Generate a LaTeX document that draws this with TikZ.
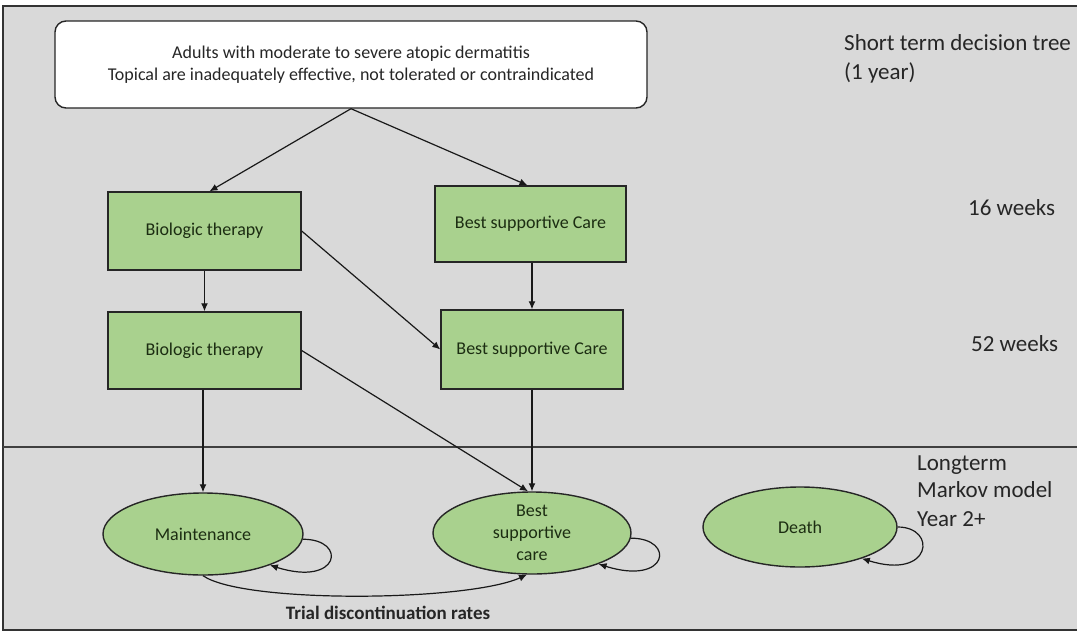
\documentclass[tikz,border=0pt]{standalone}
\usepackage{fontspec}
\setmainfont{Carlito}
\usetikzlibrary{arrows.meta,shapes.geometric,calc}
\definecolor{bggray}{RGB}{217,217,217}
\definecolor{boxgreen}{RGB}{169,209,142}
\definecolor{txtgreen}{RGB}{28,45,18}
\definecolor{lbltext}{RGB}{38,38,38}
\begin{document}
\begin{tikzpicture}[x=1pt,y=-1pt,
  topbox/.style={draw=black!85, line width=1.4pt, fill=white, rounded corners=11pt,
    minimum width=592pt, minimum height=87pt, inner sep=0pt, align=center,
    font=\fontsize{18}{22}\selectfont, text=lbltext},
  box/.style={draw=black!85, line width=1.4pt, fill=boxgreen, minimum width=193pt,
    minimum height=78pt, inner sep=0pt, font=\fontsize{18}{22}\selectfont, text=txtgreen},
  state/.style={ellipse, draw=black!85, line width=1.4pt, fill=boxgreen, inner sep=0pt,
    align=center, font=\fontsize{18}{22}\selectfont, text=txtgreen},
  arr/.style={-{Latex[length=8pt,width=7pt]}, line width=1.2pt, black!90},
  lbl/.style={anchor=base west, inner sep=0pt, font=\fontsize{23}{28}\selectfont, text=lbltext}]
\useasboundingbox (0,0) rectangle (1077,632);
\fill[white] (0,0) rectangle (1077,632);
\filldraw[fill=bggray, draw=black!80, line width=1.5pt] (3,6) rectangle (1082,630);
\draw[black!75, line width=2pt] (3,447) -- (1082,447);

% decision tree
\node[topbox] (top) at (351,64.5) {Adults with moderate to severe atopic dermatitis\\Topical are inadequately effective, not tolerated or contraindicated};
\node[box] (bio1) at (204.5,231) {Biologic therapy};
\node[box, minimum width=191pt, minimum height=76pt] (bsc1) at (530.5,224) {Best supportive Care};
\node[box, minimum height=77pt] (bio2) at (204.5,350.5) {Biologic therapy};
\node[box, minimum width=182pt, minimum height=79pt] (bsc2) at (532,349.5) {Best supportive Care};

% Markov states
\node[state, minimum width=200pt, minimum height=82pt] (maint) at (203,534) {Maintenance};
\node[state, minimum width=198pt, minimum height=82pt, inner ysep=-6pt] (bsce) at (532,533) {Best\\supportive\\care};
\node[state, minimum width=194pt, minimum height=80pt] (death) at (800,527) {Death};

% connectors
\draw[arr] (top.south) -- ([xshift=5pt]bio1.north);
\draw[arr] (top.south) -- ([xshift=-3pt]bsc1.north);
\draw[arr] (bio1.south) -- (bio2.north);
\draw[arr] (bsc1.south -| bsc2.north) -- (bsc2.north);
\draw[arr] (bio1.east) -- (bsc2.west);
\draw[arr] (bio2.south -| maint.north) -- (maint.north);
\draw[arr] (bio2.east) -- ([xshift=-4pt]bsce.north);
\draw[arr] (bsc2.south) -- (bsce.north);

% self loops
\draw[arr] (maint.357) .. controls +(45,0) and +(70,22) .. (maint.335);
\draw[arr] (bsce.357) .. controls +(45,0) and +(70,22) .. (bsce.335);
\draw[arr] (death.0) .. controls +(40,0) and +(70,22) .. (death.333);

% transition
\draw[arr] (maint.south) .. controls +(40,28) and +(-60,27) .. ([xshift=-5pt]bsce.south);
\node[font=\bfseries\fontsize{19}{23}\selectfont, text=lbltext] (trial) at (388,613) {Trial discontinuation rates};

% side labels
\node[lbl] (st1) at (844,50) {Short term decision tree};
\node[lbl] (st2) at (844,79) {(1 year)};
\node[lbl] (w16) at (968,215) {16 weeks};
\node[lbl] (w52) at (971,351) {52 weeks};
\node[lbl] (lt1) at (917,470) {Longterm};
\node[lbl] (lt2) at (917,497) {Markov model};
\node[lbl] (lt3) at (917,526) {Year 2+};
\end{tikzpicture}
\end{document}
